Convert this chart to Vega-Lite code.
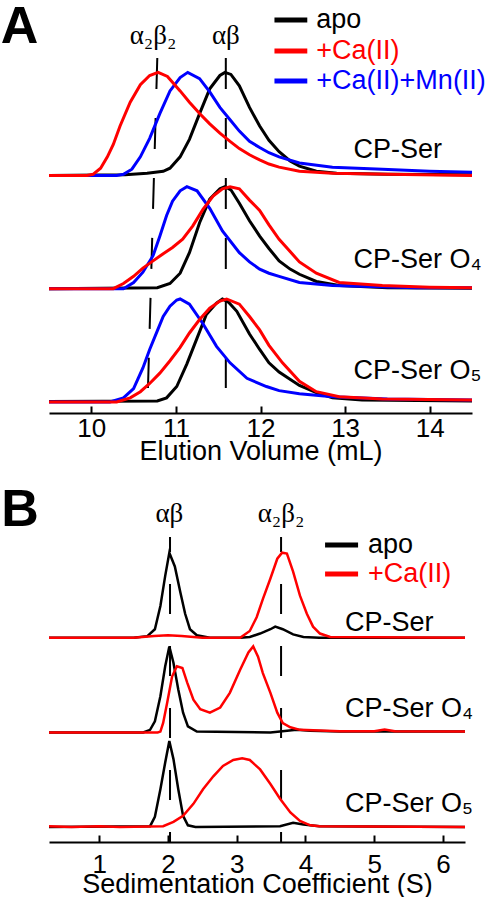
{
"$schema":"https://vega.github.io/schema/vega-lite/v6.json",
"padding":0,
"background":"white",
"spacing":15,
"config":{"view":{"stroke":null},"font":"Liberation Sans",
 "axisX":{"domainColor":"black","domainWidth":2,"tickColor":"black","tickWidth":2,"tickSize":-7,"labelFontSize":26,"labelColor":"black","titleFontSize":27,"titleColor":"black","titleFontWeight":"normal","grid":false,"labelFont":"Liberation Sans","titleFont":"Liberation Sans","format":"d"}},
"datasets":{
"secA":[
{"sample":"CP-Ser","condition":"apo","volume":9.5,"signal":2.2},{"sample":"CP-Ser","condition":"apo","volume":10.4,"signal":2.205},{"sample":"CP-Ser","condition":"apo","volume":10.66,"signal":2.22},{"sample":"CP-Ser","condition":"apo","volume":10.85,"signal":2.24},{"sample":"CP-Ser","condition":"apo","volume":10.93,"signal":2.27},{"sample":"CP-Ser","condition":"apo","volume":11.05,"signal":2.38},{"sample":"CP-Ser","condition":"apo","volume":11.16,"signal":2.55},{"sample":"CP-Ser","condition":"apo","volume":11.28,"signal":2.8},{"sample":"CP-Ser","condition":"apo","volume":11.4,"signal":3.04},{"sample":"CP-Ser","condition":"apo","volume":11.52,"signal":3.17},{"sample":"CP-Ser","condition":"apo","volume":11.58,"signal":3.2},{"sample":"CP-Ser","condition":"apo","volume":11.65,"signal":3.18},{"sample":"CP-Ser","condition":"apo","volume":11.75,"signal":3.07},{"sample":"CP-Ser","condition":"apo","volume":11.87,"signal":2.86},{"sample":"CP-Ser","condition":"apo","volume":11.99,"signal":2.68},{"sample":"CP-Ser","condition":"apo","volume":12.1,"signal":2.54},{"sample":"CP-Ser","condition":"apo","volume":12.22,"signal":2.43},{"sample":"CP-Ser","condition":"apo","volume":12.35,"signal":2.34},{"sample":"CP-Ser","condition":"apo","volume":12.46,"signal":2.29},{"sample":"CP-Ser","condition":"apo","volume":12.66,"signal":2.24},{"sample":"CP-Ser","condition":"apo","volume":12.9,"signal":2.22},{"sample":"CP-Ser","condition":"apo","volume":13.5,"signal":2.21},{"sample":"CP-Ser","condition":"apo","volume":14.5,"signal":2.205},
{"sample":"CP-Ser O4","condition":"apo","volume":9.5,"signal":1.1},{"sample":"CP-Ser O4","condition":"apo","volume":10.78,"signal":1.11},{"sample":"CP-Ser O4","condition":"apo","volume":10.93,"signal":1.15},{"sample":"CP-Ser O4","condition":"apo","volume":11.05,"signal":1.25},{"sample":"CP-Ser O4","condition":"apo","volume":11.16,"signal":1.45},{"sample":"CP-Ser O4","condition":"apo","volume":11.28,"signal":1.74},{"sample":"CP-Ser O4","condition":"apo","volume":11.4,"signal":1.97},{"sample":"CP-Ser O4","condition":"apo","volume":11.52,"signal":2.07},{"sample":"CP-Ser O4","condition":"apo","volume":11.58,"signal":2.09},{"sample":"CP-Ser O4","condition":"apo","volume":11.65,"signal":2.06},{"sample":"CP-Ser O4","condition":"apo","volume":11.75,"signal":1.93},{"sample":"CP-Ser O4","condition":"apo","volume":11.87,"signal":1.76},{"sample":"CP-Ser O4","condition":"apo","volume":11.99,"signal":1.61},{"sample":"CP-Ser O4","condition":"apo","volume":12.1,"signal":1.49},{"sample":"CP-Ser O4","condition":"apo","volume":12.22,"signal":1.37},{"sample":"CP-Ser O4","condition":"apo","volume":12.35,"signal":1.29},{"sample":"CP-Ser O4","condition":"apo","volume":12.46,"signal":1.24},{"sample":"CP-Ser O4","condition":"apo","volume":12.66,"signal":1.17},{"sample":"CP-Ser O4","condition":"apo","volume":12.93,"signal":1.13},{"sample":"CP-Ser O4","condition":"apo","volume":13.5,"signal":1.11},{"sample":"CP-Ser O4","condition":"apo","volume":14.5,"signal":1.105},
{"sample":"CP-Ser O5","condition":"apo","volume":9.5,"signal":0.005},{"sample":"CP-Ser O5","condition":"apo","volume":10.78,"signal":0.01},{"sample":"CP-Ser O5","condition":"apo","volume":10.89,"signal":0.04},{"sample":"CP-Ser O5","condition":"apo","volume":11.01,"signal":0.15},{"sample":"CP-Ser O5","condition":"apo","volume":11.13,"signal":0.37},{"sample":"CP-Ser O5","condition":"apo","volume":11.25,"signal":0.62},{"sample":"CP-Ser O5","condition":"apo","volume":11.36,"signal":0.85},{"sample":"CP-Ser O5","condition":"apo","volume":11.48,"signal":0.96},{"sample":"CP-Ser O5","condition":"apo","volume":11.55,"signal":1.0},{"sample":"CP-Ser O5","condition":"apo","volume":11.62,"signal":0.97},{"sample":"CP-Ser O5","condition":"apo","volume":11.72,"signal":0.88},{"sample":"CP-Ser O5","condition":"apo","volume":11.87,"signal":0.66},{"sample":"CP-Ser O5","condition":"apo","volume":11.99,"signal":0.51},{"sample":"CP-Ser O5","condition":"apo","volume":12.1,"signal":0.38},{"sample":"CP-Ser O5","condition":"apo","volume":12.22,"signal":0.29},{"sample":"CP-Ser O5","condition":"apo","volume":12.46,"signal":0.16},{"sample":"CP-Ser O5","condition":"apo","volume":12.66,"signal":0.09},{"sample":"CP-Ser O5","condition":"apo","volume":12.85,"signal":0.04},{"sample":"CP-Ser O5","condition":"apo","volume":13.2,"signal":0.02},{"sample":"CP-Ser O5","condition":"apo","volume":14.5,"signal":0.01},
{"sample":"CP-Ser","condition":"+Ca(II)+Mn(II)","volume":9.5,"signal":2.2},{"sample":"CP-Ser","condition":"+Ca(II)+Mn(II)","volume":10.3,"signal":2.2},{"sample":"CP-Ser","condition":"+Ca(II)+Mn(II)","volume":10.38,"signal":2.21},{"sample":"CP-Ser","condition":"+Ca(II)+Mn(II)","volume":10.48,"signal":2.26},{"sample":"CP-Ser","condition":"+Ca(II)+Mn(II)","volume":10.58,"signal":2.38},{"sample":"CP-Ser","condition":"+Ca(II)+Mn(II)","volume":10.69,"signal":2.56},{"sample":"CP-Ser","condition":"+Ca(II)+Mn(II)","volume":10.81,"signal":2.8},{"sample":"CP-Ser","condition":"+Ca(II)+Mn(II)","volume":10.93,"signal":3.02},{"sample":"CP-Ser","condition":"+Ca(II)+Mn(II)","volume":11.05,"signal":3.15},{"sample":"CP-Ser","condition":"+Ca(II)+Mn(II)","volume":11.14,"signal":3.2},{"sample":"CP-Ser","condition":"+Ca(II)+Mn(II)","volume":11.28,"signal":3.14},{"sample":"CP-Ser","condition":"+Ca(II)+Mn(II)","volume":11.4,"signal":3.01},{"sample":"CP-Ser","condition":"+Ca(II)+Mn(II)","volume":11.52,"signal":2.86},{"sample":"CP-Ser","condition":"+Ca(II)+Mn(II)","volume":11.64,"signal":2.74},{"sample":"CP-Ser","condition":"+Ca(II)+Mn(II)","volume":11.75,"signal":2.63},{"sample":"CP-Ser","condition":"+Ca(II)+Mn(II)","volume":11.87,"signal":2.53},{"sample":"CP-Ser","condition":"+Ca(II)+Mn(II)","volume":11.99,"signal":2.47},{"sample":"CP-Ser","condition":"+Ca(II)+Mn(II)","volume":12.1,"signal":2.42},{"sample":"CP-Ser","condition":"+Ca(II)+Mn(II)","volume":12.22,"signal":2.38},{"sample":"CP-Ser","condition":"+Ca(II)+Mn(II)","volume":12.46,"signal":2.32},{"sample":"CP-Ser","condition":"+Ca(II)+Mn(II)","volume":12.85,"signal":2.28},{"sample":"CP-Ser","condition":"+Ca(II)+Mn(II)","volume":13.44,"signal":2.26},{"sample":"CP-Ser","condition":"+Ca(II)+Mn(II)","volume":14.0,"signal":2.24},{"sample":"CP-Ser","condition":"+Ca(II)+Mn(II)","volume":14.5,"signal":2.23},
{"sample":"CP-Ser O4","condition":"+Ca(II)+Mn(II)","volume":9.5,"signal":1.1},{"sample":"CP-Ser O4","condition":"+Ca(II)+Mn(II)","volume":10.38,"signal":1.1},{"sample":"CP-Ser O4","condition":"+Ca(II)+Mn(II)","volume":10.5,"signal":1.16},{"sample":"CP-Ser O4","condition":"+Ca(II)+Mn(II)","volume":10.61,"signal":1.26},{"sample":"CP-Ser O4","condition":"+Ca(II)+Mn(II)","volume":10.73,"signal":1.42},{"sample":"CP-Ser O4","condition":"+Ca(II)+Mn(II)","volume":10.81,"signal":1.61},{"sample":"CP-Ser O4","condition":"+Ca(II)+Mn(II)","volume":10.89,"signal":1.81},{"sample":"CP-Ser O4","condition":"+Ca(II)+Mn(II)","volume":10.96,"signal":1.95},{"sample":"CP-Ser O4","condition":"+Ca(II)+Mn(II)","volume":11.05,"signal":2.05},{"sample":"CP-Ser O4","condition":"+Ca(II)+Mn(II)","volume":11.13,"signal":2.09},{"sample":"CP-Ser O4","condition":"+Ca(II)+Mn(II)","volume":11.25,"signal":2.05},{"sample":"CP-Ser O4","condition":"+Ca(II)+Mn(II)","volume":11.4,"signal":1.88},{"sample":"CP-Ser O4","condition":"+Ca(II)+Mn(II)","volume":11.55,"signal":1.66},{"sample":"CP-Ser O4","condition":"+Ca(II)+Mn(II)","volume":11.75,"signal":1.45},{"sample":"CP-Ser O4","condition":"+Ca(II)+Mn(II)","volume":11.87,"signal":1.36},{"sample":"CP-Ser O4","condition":"+Ca(II)+Mn(II)","volume":11.99,"signal":1.29},{"sample":"CP-Ser O4","condition":"+Ca(II)+Mn(II)","volume":12.1,"signal":1.25},{"sample":"CP-Ser O4","condition":"+Ca(II)+Mn(II)","volume":12.22,"signal":1.22},{"sample":"CP-Ser O4","condition":"+Ca(II)+Mn(II)","volume":12.46,"signal":1.16},{"sample":"CP-Ser O4","condition":"+Ca(II)+Mn(II)","volume":12.85,"signal":1.13},{"sample":"CP-Ser O4","condition":"+Ca(II)+Mn(II)","volume":13.84,"signal":1.11},{"sample":"CP-Ser O4","condition":"+Ca(II)+Mn(II)","volume":14.5,"signal":1.11},
{"sample":"CP-Ser O5","condition":"+Ca(II)+Mn(II)","volume":9.5,"signal":0},{"sample":"CP-Ser O5","condition":"+Ca(II)+Mn(II)","volume":10.22,"signal":0},{"sample":"CP-Ser O5","condition":"+Ca(II)+Mn(II)","volume":10.38,"signal":0.04},{"sample":"CP-Ser O5","condition":"+Ca(II)+Mn(II)","volume":10.5,"signal":0.13},{"sample":"CP-Ser O5","condition":"+Ca(II)+Mn(II)","volume":10.61,"signal":0.33},{"sample":"CP-Ser O5","condition":"+Ca(II)+Mn(II)","volume":10.69,"signal":0.51},{"sample":"CP-Ser O5","condition":"+Ca(II)+Mn(II)","volume":10.78,"signal":0.69},{"sample":"CP-Ser O5","condition":"+Ca(II)+Mn(II)","volume":10.85,"signal":0.83},{"sample":"CP-Ser O5","condition":"+Ca(II)+Mn(II)","volume":10.93,"signal":0.93},{"sample":"CP-Ser O5","condition":"+Ca(II)+Mn(II)","volume":11.01,"signal":0.99},{"sample":"CP-Ser O5","condition":"+Ca(II)+Mn(II)","volume":11.05,"signal":1.0},{"sample":"CP-Ser O5","condition":"+Ca(II)+Mn(II)","volume":11.16,"signal":0.95},{"sample":"CP-Ser O5","condition":"+Ca(II)+Mn(II)","volume":11.32,"signal":0.76},{"sample":"CP-Ser O5","condition":"+Ca(II)+Mn(II)","volume":11.48,"signal":0.54},{"sample":"CP-Ser O5","condition":"+Ca(II)+Mn(II)","volume":11.64,"signal":0.38},{"sample":"CP-Ser O5","condition":"+Ca(II)+Mn(II)","volume":11.84,"signal":0.23},{"sample":"CP-Ser O5","condition":"+Ca(II)+Mn(II)","volume":12.07,"signal":0.15},{"sample":"CP-Ser O5","condition":"+Ca(II)+Mn(II)","volume":12.22,"signal":0.11},{"sample":"CP-Ser O5","condition":"+Ca(II)+Mn(II)","volume":12.46,"signal":0.08},{"sample":"CP-Ser O5","condition":"+Ca(II)+Mn(II)","volume":12.85,"signal":0.05},{"sample":"CP-Ser O5","condition":"+Ca(II)+Mn(II)","volume":13.5,"signal":0.03},{"sample":"CP-Ser O5","condition":"+Ca(II)+Mn(II)","volume":14.5,"signal":0.02},
{"sample":"CP-Ser","condition":"+Ca(II)","volume":9.5,"signal":2.2},{"sample":"CP-Ser","condition":"+Ca(II)","volume":9.95,"signal":2.2},{"sample":"CP-Ser","condition":"+Ca(II)","volume":10.02,"signal":2.21},{"sample":"CP-Ser","condition":"+Ca(II)","volume":10.11,"signal":2.27},{"sample":"CP-Ser","condition":"+Ca(II)","volume":10.19,"signal":2.38},{"sample":"CP-Ser","condition":"+Ca(II)","volume":10.26,"signal":2.5},{"sample":"CP-Ser","condition":"+Ca(II)","volume":10.34,"signal":2.68},{"sample":"CP-Ser","condition":"+Ca(II)","volume":10.46,"signal":2.91},{"sample":"CP-Ser","condition":"+Ca(II)","volume":10.58,"signal":3.08},{"sample":"CP-Ser","condition":"+Ca(II)","volume":10.69,"signal":3.17},{"sample":"CP-Ser","condition":"+Ca(II)","volume":10.79,"signal":3.2},{"sample":"CP-Ser","condition":"+Ca(II)","volume":10.9,"signal":3.16},{"sample":"CP-Ser","condition":"+Ca(II)","volume":11.05,"signal":3.02},{"sample":"CP-Ser","condition":"+Ca(II)","volume":11.16,"signal":2.91},{"sample":"CP-Ser","condition":"+Ca(II)","volume":11.28,"signal":2.8},{"sample":"CP-Ser","condition":"+Ca(II)","volume":11.4,"signal":2.7},{"sample":"CP-Ser","condition":"+Ca(II)","volume":11.52,"signal":2.61},{"sample":"CP-Ser","condition":"+Ca(II)","volume":11.64,"signal":2.53},{"sample":"CP-Ser","condition":"+Ca(II)","volume":11.75,"signal":2.46},{"sample":"CP-Ser","condition":"+Ca(II)","volume":11.87,"signal":2.4},{"sample":"CP-Ser","condition":"+Ca(II)","volume":11.99,"signal":2.35},{"sample":"CP-Ser","condition":"+Ca(II)","volume":12.1,"signal":2.31},{"sample":"CP-Ser","condition":"+Ca(II)","volume":12.22,"signal":2.28},{"sample":"CP-Ser","condition":"+Ca(II)","volume":12.46,"signal":2.24},{"sample":"CP-Ser","condition":"+Ca(II)","volume":12.85,"signal":2.22},{"sample":"CP-Ser","condition":"+Ca(II)","volume":13.5,"signal":2.21},{"sample":"CP-Ser","condition":"+Ca(II)","volume":14.5,"signal":2.2},
{"sample":"CP-Ser O4","condition":"+Ca(II)","volume":9.5,"signal":1.1},{"sample":"CP-Ser O4","condition":"+Ca(II)","volume":10.26,"signal":1.1},{"sample":"CP-Ser O4","condition":"+Ca(II)","volume":10.38,"signal":1.15},{"sample":"CP-Ser O4","condition":"+Ca(II)","volume":10.5,"signal":1.22},{"sample":"CP-Ser O4","condition":"+Ca(II)","volume":10.61,"signal":1.3},{"sample":"CP-Ser O4","condition":"+Ca(II)","volume":10.73,"signal":1.37},{"sample":"CP-Ser O4","condition":"+Ca(II)","volume":10.85,"signal":1.44},{"sample":"CP-Ser O4","condition":"+Ca(II)","volume":10.96,"signal":1.5},{"sample":"CP-Ser O4","condition":"+Ca(II)","volume":11.08,"signal":1.58},{"sample":"CP-Ser O4","condition":"+Ca(II)","volume":11.2,"signal":1.71},{"sample":"CP-Ser O4","condition":"+Ca(II)","volume":11.32,"signal":1.87},{"sample":"CP-Ser O4","condition":"+Ca(II)","volume":11.44,"signal":2.0},{"sample":"CP-Ser O4","condition":"+Ca(II)","volume":11.55,"signal":2.07},{"sample":"CP-Ser O4","condition":"+Ca(II)","volume":11.64,"signal":2.09},{"sample":"CP-Ser O4","condition":"+Ca(II)","volume":11.75,"signal":2.07},{"sample":"CP-Ser O4","condition":"+Ca(II)","volume":11.87,"signal":1.96},{"sample":"CP-Ser O4","condition":"+Ca(II)","volume":11.99,"signal":1.86},{"sample":"CP-Ser O4","condition":"+Ca(II)","volume":12.1,"signal":1.72},{"sample":"CP-Ser O4","condition":"+Ca(II)","volume":12.22,"signal":1.58},{"sample":"CP-Ser O4","condition":"+Ca(II)","volume":12.35,"signal":1.46},{"sample":"CP-Ser O4","condition":"+Ca(II)","volume":12.46,"signal":1.36},{"sample":"CP-Ser O4","condition":"+Ca(II)","volume":12.66,"signal":1.25},{"sample":"CP-Ser O4","condition":"+Ca(II)","volume":12.93,"signal":1.16},{"sample":"CP-Ser O4","condition":"+Ca(II)","volume":13.44,"signal":1.13},{"sample":"CP-Ser O4","condition":"+Ca(II)","volume":14.0,"signal":1.115},{"sample":"CP-Ser O4","condition":"+Ca(II)","volume":14.5,"signal":1.11},
{"sample":"CP-Ser O5","condition":"+Ca(II)","volume":9.5,"signal":0},{"sample":"CP-Ser O5","condition":"+Ca(II)","volume":10.3,"signal":0},{"sample":"CP-Ser O5","condition":"+Ca(II)","volume":10.46,"signal":0.04},{"sample":"CP-Ser O5","condition":"+Ca(II)","volume":10.58,"signal":0.1},{"sample":"CP-Ser O5","condition":"+Ca(II)","volume":10.69,"signal":0.18},{"sample":"CP-Ser O5","condition":"+Ca(II)","volume":10.81,"signal":0.28},{"sample":"CP-Ser O5","condition":"+Ca(II)","volume":10.93,"signal":0.4},{"sample":"CP-Ser O5","condition":"+Ca(II)","volume":11.05,"signal":0.53},{"sample":"CP-Ser O5","condition":"+Ca(II)","volume":11.16,"signal":0.67},{"sample":"CP-Ser O5","condition":"+Ca(II)","volume":11.28,"signal":0.8},{"sample":"CP-Ser O5","condition":"+Ca(II)","volume":11.4,"signal":0.91},{"sample":"CP-Ser O5","condition":"+Ca(II)","volume":11.52,"signal":0.98},{"sample":"CP-Ser O5","condition":"+Ca(II)","volume":11.6,"signal":1.0},{"sample":"CP-Ser O5","condition":"+Ca(II)","volume":11.75,"signal":0.95},{"sample":"CP-Ser O5","condition":"+Ca(II)","volume":11.87,"signal":0.83},{"sample":"CP-Ser O5","condition":"+Ca(II)","volume":11.99,"signal":0.7},{"sample":"CP-Ser O5","condition":"+Ca(II)","volume":12.1,"signal":0.55},{"sample":"CP-Ser O5","condition":"+Ca(II)","volume":12.26,"signal":0.38},{"sample":"CP-Ser O5","condition":"+Ca(II)","volume":12.46,"signal":0.2},{"sample":"CP-Ser O5","condition":"+Ca(II)","volume":12.66,"signal":0.1},{"sample":"CP-Ser O5","condition":"+Ca(II)","volume":12.93,"signal":0.05},{"sample":"CP-Ser O5","condition":"+Ca(II)","volume":13.44,"signal":0.03},{"sample":"CP-Ser O5","condition":"+Ca(II)","volume":14.5,"signal":0.02}
],
"sedB":[
{"sample":"CP-Ser","condition":"apo","coefficient":0.27,"signal":2.2},{"sample":"CP-Ser","condition":"apo","coefficient":1.5,"signal":2.2},{"sample":"CP-Ser","condition":"apo","coefficient":1.7,"signal":2.22},{"sample":"CP-Ser","condition":"apo","coefficient":1.81,"signal":2.3},{"sample":"CP-Ser","condition":"apo","coefficient":1.89,"signal":2.57},{"sample":"CP-Ser","condition":"apo","coefficient":1.96,"signal":2.92},{"sample":"CP-Ser","condition":"apo","coefficient":2.02,"signal":3.19},{"sample":"CP-Ser","condition":"apo","coefficient":2.1,"signal":3.03},{"sample":"CP-Ser","condition":"apo","coefficient":2.18,"signal":2.73},{"sample":"CP-Ser","condition":"apo","coefficient":2.25,"signal":2.48},{"sample":"CP-Ser","condition":"apo","coefficient":2.32,"signal":2.3},{"sample":"CP-Ser","condition":"apo","coefficient":2.42,"signal":2.23},{"sample":"CP-Ser","condition":"apo","coefficient":2.61,"signal":2.2},{"sample":"CP-Ser","condition":"apo","coefficient":3.05,"signal":2.2},{"sample":"CP-Ser","condition":"apo","coefficient":3.19,"signal":2.21},{"sample":"CP-Ser","condition":"apo","coefficient":3.34,"signal":2.25},{"sample":"CP-Ser","condition":"apo","coefficient":3.49,"signal":2.3},{"sample":"CP-Ser","condition":"apo","coefficient":3.56,"signal":2.33},{"sample":"CP-Ser","condition":"apo","coefficient":3.67,"signal":2.3},{"sample":"CP-Ser","condition":"apo","coefficient":3.82,"signal":2.24},{"sample":"CP-Ser","condition":"apo","coefficient":3.97,"signal":2.21},{"sample":"CP-Ser","condition":"apo","coefficient":4.2,"signal":2.2},{"sample":"CP-Ser","condition":"apo","coefficient":6.32,"signal":2.2},
{"sample":"CP-Ser O4","condition":"apo","coefficient":0.27,"signal":1.1},{"sample":"CP-Ser O4","condition":"apo","coefficient":1.64,"signal":1.1},{"sample":"CP-Ser O4","condition":"apo","coefficient":1.74,"signal":1.13},{"sample":"CP-Ser O4","condition":"apo","coefficient":1.81,"signal":1.23},{"sample":"CP-Ser O4","condition":"apo","coefficient":1.89,"signal":1.52},{"sample":"CP-Ser O4","condition":"apo","coefficient":1.96,"signal":1.87},{"sample":"CP-Ser O4","condition":"apo","coefficient":2.02,"signal":2.1},{"sample":"CP-Ser O4","condition":"apo","coefficient":2.08,"signal":1.91},{"sample":"CP-Ser O4","condition":"apo","coefficient":2.15,"signal":1.6},{"sample":"CP-Ser O4","condition":"apo","coefficient":2.22,"signal":1.33},{"sample":"CP-Ser O4","condition":"apo","coefficient":2.29,"signal":1.17},{"sample":"CP-Ser O4","condition":"apo","coefficient":2.42,"signal":1.11},{"sample":"CP-Ser O4","condition":"apo","coefficient":3.49,"signal":1.1},{"sample":"CP-Ser O4","condition":"apo","coefficient":3.63,"signal":1.11},{"sample":"CP-Ser O4","condition":"apo","coefficient":3.87,"signal":1.13},{"sample":"CP-Ser O4","condition":"apo","coefficient":4.07,"signal":1.12},{"sample":"CP-Ser O4","condition":"apo","coefficient":4.5,"signal":1.11},{"sample":"CP-Ser O4","condition":"apo","coefficient":6.32,"signal":1.11},
{"sample":"CP-Ser O5","condition":"apo","coefficient":0.27,"signal":0},{"sample":"CP-Ser O5","condition":"apo","coefficient":1.74,"signal":0.01},{"sample":"CP-Ser O5","condition":"apo","coefficient":1.81,"signal":0.12},{"sample":"CP-Ser O5","condition":"apo","coefficient":1.89,"signal":0.44},{"sample":"CP-Ser O5","condition":"apo","coefficient":1.96,"signal":0.75},{"sample":"CP-Ser O5","condition":"apo","coefficient":2.02,"signal":1.0},{"sample":"CP-Ser O5","condition":"apo","coefficient":2.08,"signal":0.79},{"sample":"CP-Ser O5","condition":"apo","coefficient":2.15,"signal":0.44},{"sample":"CP-Ser O5","condition":"apo","coefficient":2.22,"signal":0.13},{"sample":"CP-Ser O5","condition":"apo","coefficient":2.29,"signal":0.02},{"sample":"CP-Ser O5","condition":"apo","coefficient":2.4,"signal":0},{"sample":"CP-Ser O5","condition":"apo","coefficient":3.63,"signal":0.01},{"sample":"CP-Ser O5","condition":"apo","coefficient":3.82,"signal":0.05},{"sample":"CP-Ser O5","condition":"apo","coefficient":3.97,"signal":0.03},{"sample":"CP-Ser O5","condition":"apo","coefficient":4.2,"signal":0.01},{"sample":"CP-Ser O5","condition":"apo","coefficient":6.32,"signal":0},
{"sample":"CP-Ser","condition":"+Ca(II)","coefficient":0.27,"signal":2.2},{"sample":"CP-Ser","condition":"+Ca(II)","coefficient":1.5,"signal":2.2},{"sample":"CP-Ser","condition":"+Ca(II)","coefficient":1.8,"signal":2.22},{"sample":"CP-Ser","condition":"+Ca(II)","coefficient":2.0,"signal":2.23},{"sample":"CP-Ser","condition":"+Ca(II)","coefficient":2.2,"signal":2.22},{"sample":"CP-Ser","condition":"+Ca(II)","coefficient":2.5,"signal":2.2},{"sample":"CP-Ser","condition":"+Ca(II)","coefficient":3.05,"signal":2.2},{"sample":"CP-Ser","condition":"+Ca(II)","coefficient":3.19,"signal":2.28},{"sample":"CP-Ser","condition":"+Ca(II)","coefficient":3.29,"signal":2.44},{"sample":"CP-Ser","condition":"+Ca(II)","coefficient":3.38,"signal":2.65},{"sample":"CP-Ser","condition":"+Ca(II)","coefficient":3.49,"signal":2.89},{"sample":"CP-Ser","condition":"+Ca(II)","coefficient":3.59,"signal":3.12},{"sample":"CP-Ser","condition":"+Ca(II)","coefficient":3.66,"signal":3.19},{"sample":"CP-Ser","condition":"+Ca(II)","coefficient":3.73,"signal":3.18},{"sample":"CP-Ser","condition":"+Ca(II)","coefficient":3.82,"signal":2.97},{"sample":"CP-Ser","condition":"+Ca(II)","coefficient":3.92,"signal":2.69},{"sample":"CP-Ser","condition":"+Ca(II)","coefficient":4.02,"signal":2.48},{"sample":"CP-Ser","condition":"+Ca(II)","coefficient":4.11,"signal":2.33},{"sample":"CP-Ser","condition":"+Ca(II)","coefficient":4.21,"signal":2.25},{"sample":"CP-Ser","condition":"+Ca(II)","coefficient":4.36,"signal":2.21},{"sample":"CP-Ser","condition":"+Ca(II)","coefficient":6.32,"signal":2.2},
{"sample":"CP-Ser O4","condition":"+Ca(II)","coefficient":0.27,"signal":1.1},{"sample":"CP-Ser O4","condition":"+Ca(II)","coefficient":1.85,"signal":1.1},{"sample":"CP-Ser O4","condition":"+Ca(II)","coefficient":1.89,"signal":1.11},{"sample":"CP-Ser O4","condition":"+Ca(II)","coefficient":1.93,"signal":1.21},{"sample":"CP-Ser O4","condition":"+Ca(II)","coefficient":1.99,"signal":1.45},{"sample":"CP-Ser O4","condition":"+Ca(II)","coefficient":2.06,"signal":1.75},{"sample":"CP-Ser O4","condition":"+Ca(II)","coefficient":2.13,"signal":1.87},{"sample":"CP-Ser O4","condition":"+Ca(II)","coefficient":2.21,"signal":1.85},{"sample":"CP-Ser O4","condition":"+Ca(II)","coefficient":2.28,"signal":1.68},{"sample":"CP-Ser O4","condition":"+Ca(II)","coefficient":2.37,"signal":1.48},{"sample":"CP-Ser O4","condition":"+Ca(II)","coefficient":2.47,"signal":1.37},{"sample":"CP-Ser O4","condition":"+Ca(II)","coefficient":2.61,"signal":1.33},{"sample":"CP-Ser O4","condition":"+Ca(II)","coefficient":2.76,"signal":1.39},{"sample":"CP-Ser O4","condition":"+Ca(II)","coefficient":2.9,"signal":1.56},{"sample":"CP-Ser O4","condition":"+Ca(II)","coefficient":3.05,"signal":1.83},{"sample":"CP-Ser O4","condition":"+Ca(II)","coefficient":3.17,"signal":2.03},{"sample":"CP-Ser O4","condition":"+Ca(II)","coefficient":3.24,"signal":2.1},{"sample":"CP-Ser O4","condition":"+Ca(II)","coefficient":3.31,"signal":1.98},{"sample":"CP-Ser O4","condition":"+Ca(II)","coefficient":3.38,"signal":1.79},{"sample":"CP-Ser O4","condition":"+Ca(II)","coefficient":3.49,"signal":1.56},{"sample":"CP-Ser O4","condition":"+Ca(II)","coefficient":3.59,"signal":1.33},{"sample":"CP-Ser O4","condition":"+Ca(II)","coefficient":3.67,"signal":1.21},{"sample":"CP-Ser O4","condition":"+Ca(II)","coefficient":3.78,"signal":1.16},{"sample":"CP-Ser O4","condition":"+Ca(II)","coefficient":3.92,"signal":1.13},{"sample":"CP-Ser O4","condition":"+Ca(II)","coefficient":4.5,"signal":1.115},{"sample":"CP-Ser O4","condition":"+Ca(II)","coefficient":5.0,"signal":1.115},{"sample":"CP-Ser O4","condition":"+Ca(II)","coefficient":5.15,"signal":1.135},{"sample":"CP-Ser O4","condition":"+Ca(II)","coefficient":5.3,"signal":1.115},{"sample":"CP-Ser O4","condition":"+Ca(II)","coefficient":6.32,"signal":1.11},
{"sample":"CP-Ser O5","condition":"+Ca(II)","coefficient":0.27,"signal":0.01},{"sample":"CP-Ser O5","condition":"+Ca(II)","coefficient":0.6,"signal":0},{"sample":"CP-Ser O5","condition":"+Ca(II)","coefficient":1.0,"signal":0.01},{"sample":"CP-Ser O5","condition":"+Ca(II)","coefficient":1.3,"signal":0},{"sample":"CP-Ser O5","condition":"+Ca(II)","coefficient":1.93,"signal":0.01},{"sample":"CP-Ser O5","condition":"+Ca(II)","coefficient":2.08,"signal":0.06},{"sample":"CP-Ser O5","condition":"+Ca(II)","coefficient":2.22,"signal":0.13},{"sample":"CP-Ser O5","condition":"+Ca(II)","coefficient":2.37,"signal":0.27},{"sample":"CP-Ser O5","condition":"+Ca(II)","coefficient":2.51,"signal":0.44},{"sample":"CP-Ser O5","condition":"+Ca(II)","coefficient":2.66,"signal":0.59},{"sample":"CP-Ser O5","condition":"+Ca(II)","coefficient":2.8,"signal":0.71},{"sample":"CP-Ser O5","condition":"+Ca(II)","coefficient":2.95,"signal":0.78},{"sample":"CP-Ser O5","condition":"+Ca(II)","coefficient":3.08,"signal":0.8},{"sample":"CP-Ser O5","condition":"+Ca(II)","coefficient":3.19,"signal":0.78},{"sample":"CP-Ser O5","condition":"+Ca(II)","coefficient":3.34,"signal":0.67},{"sample":"CP-Ser O5","condition":"+Ca(II)","coefficient":3.49,"signal":0.5},{"sample":"CP-Ser O5","condition":"+Ca(II)","coefficient":3.63,"signal":0.33},{"sample":"CP-Ser O5","condition":"+Ca(II)","coefficient":3.78,"signal":0.17},{"sample":"CP-Ser O5","condition":"+Ca(II)","coefficient":3.92,"signal":0.07},{"sample":"CP-Ser O5","condition":"+Ca(II)","coefficient":4.07,"signal":0.02},{"sample":"CP-Ser O5","condition":"+Ca(II)","coefficient":4.21,"signal":0.01},{"sample":"CP-Ser O5","condition":"+Ca(II)","coefficient":6.32,"signal":0}
],
"markersA":[{"species":"αβ","x":11.59,"y":3.34,"x2":11.59,"y2":0.136},{"species":"α₂β₂","x":10.78,"y":3.34,"x2":10.67,"y2":0.136}],
"markersB":[{"species":"αβ","x":2.03,"y":3.372,"x2":2.03,"y2":-0.174},{"species":"α₂β₂","x":3.645,"y":3.372,"x2":3.645,"y2":-0.174}],
"speciesA":[{"text":"αβ","x":11.59,"y":3.476},{"text":"α₂β₂","x":10.73,"y":3.476}],
"speciesB":[{"text":"αβ","x":2.02,"y":3.547},{"text":"α₂β₂","x":3.645,"y":3.547}],
"samplesA":[{"text":"CP-Ser","x":13.1,"y":2.37},{"text":"CP-Ser O₄","x":13.1,"y":1.3},{"text":"CP-Ser O₅","x":13.1,"y":0.223}],
"samplesB":[{"text":"CP-Ser","x":4.576,"y":2.279},{"text":"CP-Ser O₄","x":4.576,"y":1.279},{"text":"CP-Ser O₅","x":4.576,"y":0.174}],
"legendA":[{"condition":"apo","x":12.165,"x2":12.553,"tx":12.66,"y":3.709},{"condition":"+Ca(II)","x":12.165,"x2":12.553,"tx":12.66,"y":3.408},{"condition":"+Ca(II)+Mn(II)","x":12.165,"x2":12.553,"tx":12.66,"y":3.117}],
"legendB":[{"condition":"apo","x":4.285,"x2":4.765,"tx":4.91,"y":3.279},{"condition":"+Ca(II)","x":4.285,"x2":4.765,"tx":4.91,"y":2.942}]
},
"vconcat":[
{
"width":423,"height":412,
"layer":[
{"data":{"name":"markersA"},"mark":{"type":"rule","strokeWidth":2,"strokeDash":[31,29],"color":"black"},
 "encoding":{"x":{"field":"x","type":"quantitative","title":"Elution Volume (mL)","scale":{"domain":[9.5,14.5],"nice":false,"zero":false},"axis":{"values":[10,11,12,13,14],"labelPadding":9,"titlePadding":-3}},"x2":{"field":"x2"},"y":{"field":"y","type":"quantitative","scale":{"domain":[-0.107,3.893],"nice":false,"zero":false},"axis":null},"y2":{"field":"y2"}}},
{"data":{"name":"secA"},"mark":{"type":"line","strokeWidth":3},
 "encoding":{"x":{"field":"volume","type":"quantitative","title":"Elution Volume (mL)"},"y":{"field":"signal","type":"quantitative","axis":null},"detail":{"field":"sample"},"color":{"field":"condition","type":"nominal","scale":{"domain":["apo","+Ca(II)","+Ca(II)+Mn(II)"],"range":["#000000","#ff0000","#0000ff"]},"legend":null}}},
{"data":{"name":"legendA"},"mark":{"type":"rule","strokeWidth":5},
 "encoding":{"x":{"field":"x","type":"quantitative","title":"Elution Volume (mL)"},"x2":{"field":"x2"},"y":{"field":"y","type":"quantitative","axis":null},"color":{"field":"condition","type":"nominal","legend":null}}},
{"data":{"name":"legendA"},"mark":{"type":"text","align":"left","baseline":"middle","fontSize":27,"font":"Liberation Sans"},
 "encoding":{"x":{"field":"tx","type":"quantitative","title":"Elution Volume (mL)"},"y":{"field":"y","type":"quantitative","axis":null},"text":{"field":"condition"},"color":{"field":"condition","type":"nominal","legend":null}}},
{"data":{"name":"samplesA"},"mark":{"type":"text","align":"left","baseline":"alphabetic","fontSize":27,"font":"Liberation Sans","color":"black"},
 "encoding":{"x":{"field":"x","type":"quantitative","title":"Elution Volume (mL)"},"y":{"field":"y","type":"quantitative","axis":null},"text":{"field":"text"}}},
{"data":{"name":"speciesA"},"mark":{"type":"text","align":"center","baseline":"alphabetic","fontSize":27,"font":"Liberation Serif","color":"black"},
 "encoding":{"x":{"field":"x","type":"quantitative","title":"Elution Volume (mL)"},"y":{"field":"y","type":"quantitative","axis":null},"text":{"field":"text"}}},
{"data":{"values":[{"panel":"A"}]},"mark":{"type":"text","align":"left","baseline":"alphabetic","fontSize":52,"fontWeight":"bold","font":"Liberation Sans","color":"black"},
 "encoding":{"x":{"datum":8.93,"type":"quantitative"},"y":{"datum":3.49,"type":"quantitative"},"text":{"field":"panel"}}}
]
},
{
"width":416,"height":363,
"layer":[
{"data":{"name":"markersB"},"mark":{"type":"rule","strokeWidth":2,"strokeDash":[30,32],"strokeDashOffset":15,"color":"black"},
 "encoding":{"x":{"field":"x","type":"quantitative","title":"Sedimentation Coefficient (S)","scale":{"domain":[0.27,6.32],"nice":false,"zero":false},"axis":{"values":[1,2,3,4,5,6],"labelPadding":16,"titlePadding":-6}},"x2":{"field":"x2"},"y":{"field":"y","type":"quantitative","scale":{"domain":[-0.174,4.047],"nice":false,"zero":false},"axis":null},"y2":{"field":"y2"}}},
{"data":{"name":"sedB"},"mark":{"type":"line","strokeWidth":2.5},
 "encoding":{"x":{"field":"coefficient","type":"quantitative","title":"Sedimentation Coefficient (S)"},"y":{"field":"signal","type":"quantitative","axis":null},"detail":{"field":"sample"},"color":{"field":"condition","type":"nominal","scale":{"domain":["apo","+Ca(II)"],"range":["#000000","#ff0000"]},"legend":null}}},
{"data":{"name":"legendB"},"mark":{"type":"rule","strokeWidth":5},
 "encoding":{"x":{"field":"x","type":"quantitative","title":"Sedimentation Coefficient (S)"},"x2":{"field":"x2"},"y":{"field":"y","type":"quantitative","axis":null},"color":{"field":"condition","type":"nominal","legend":null}}},
{"data":{"name":"legendB"},"mark":{"type":"text","align":"left","baseline":"middle","fontSize":27,"font":"Liberation Sans"},
 "encoding":{"x":{"field":"tx","type":"quantitative","title":"Sedimentation Coefficient (S)"},"y":{"field":"y","type":"quantitative","axis":null},"text":{"field":"condition"},"color":{"field":"condition","type":"nominal","legend":null}}},
{"data":{"name":"samplesB"},"mark":{"type":"text","align":"left","baseline":"alphabetic","fontSize":27,"font":"Liberation Sans","color":"black"},
 "encoding":{"x":{"field":"x","type":"quantitative","title":"Sedimentation Coefficient (S)"},"y":{"field":"y","type":"quantitative","axis":null},"text":{"field":"text"}}},
{"data":{"name":"speciesB"},"mark":{"type":"text","align":"center","baseline":"alphabetic","fontSize":27,"font":"Liberation Serif","color":"black"},
 "encoding":{"x":{"field":"x","type":"quantitative","title":"Sedimentation Coefficient (S)"},"y":{"field":"y","type":"quantitative","axis":null},"text":{"field":"text"}}},
{"data":{"values":[{"panel":"B"}]},"mark":{"type":"text","align":"left","baseline":"alphabetic","fontSize":52,"fontWeight":"bold","font":"Liberation Sans","color":"black"},
 "encoding":{"x":{"datum":-0.424,"type":"quantitative"},"y":{"datum":3.5,"type":"quantitative"},"text":{"field":"panel"}}}
]
}
]
}
